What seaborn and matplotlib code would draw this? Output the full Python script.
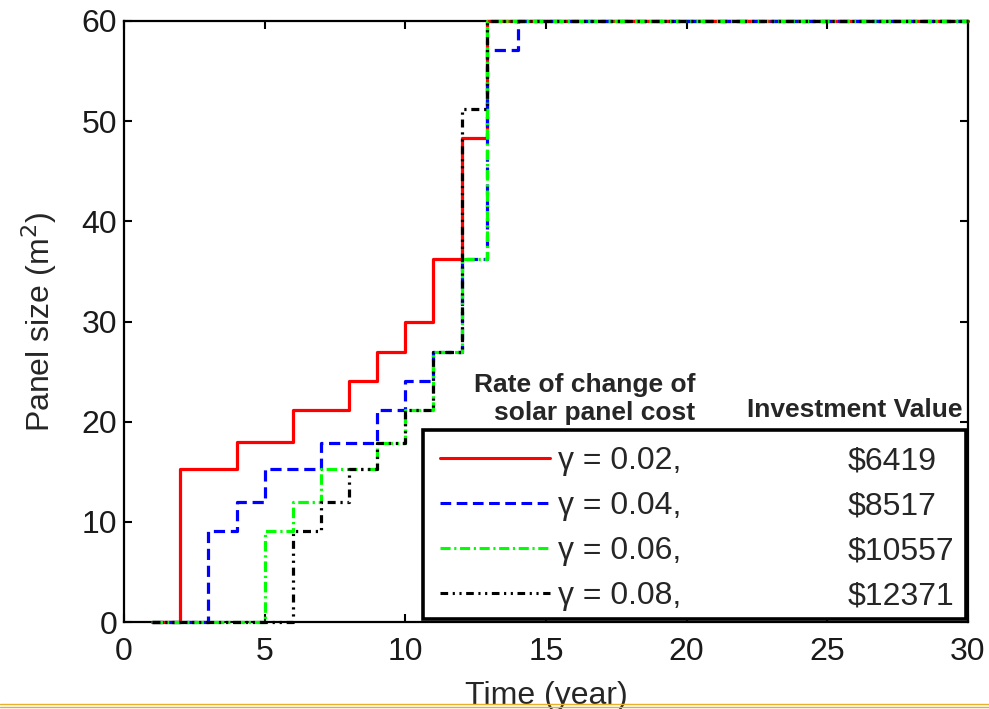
import matplotlib

matplotlib.use("Agg")
import matplotlib.pyplot as plt
import pandas as pd
import seaborn as sns
from matplotlib.lines import Line2D
from matplotlib.patches import Rectangle

# step profiles: time (year) -> panel size (m^2)
red_t = [1, 2, 4, 6, 8, 9, 10, 11, 12, 12.9, 30]
red_v = [0, 15.3, 18, 21.2, 24.1, 27, 30, 36.2, 48.3, 60, 60]
blue_t = [1, 3, 4, 5, 7, 9, 10, 11, 12, 12.9, 14, 30]
blue_v = [0, 9.1, 12, 15.3, 17.9, 21.2, 24.1, 27, 36.2, 57.1, 60, 60]
green_t = [1, 5, 6, 7, 9, 10, 11, 12, 12.9, 30]
green_v = [0, 9.1, 12, 15.3, 17.9, 21.2, 27, 36.2, 60, 60]
black_t = [1, 6, 7, 8, 9, 10, 11, 12, 12.9, 30]
black_v = [0, 9.1, 12, 15.3, 17.9, 21.2, 27, 51.2, 60, 60]

gamma_labels = ["\u03b3 = 0.02,", "\u03b3 = 0.04,", "\u03b3 = 0.06,", "\u03b3 = 0.08,"]
invest_labels = ["$6419", "$8517", "$10557", "$12371"]

series = [
    (red_t, red_v, "#ff0000", "-"),
    (blue_t, blue_v, "#0000ff", (0, (3.5, 1.8))),
    (green_t, green_v, "#00ff00", (0, (3.3, 1.2, 0.7, 1.2))),
    (black_t, black_v, "#000000", (0, (2.5, 1.5, 0.7, 1.5, 0.7, 1.5))),
]

sns.set_theme(style="ticks")
plt.rcParams["font.family"] = ["Liberation Sans", "DejaVu Sans"]

W, H = 989, 709
L, R, T, B = 124, 968, 21, 622
FS = 23
fig = plt.figure(figsize=(W / 100, H / 100), dpi=100)
ax = fig.add_axes([L / W, 1 - B / H, (R - L) / W, (B - T) / H])


def ax_x(px):
    return (px - L) / (R - L)


def ax_y(py):
    return (B - py) / (B - T)


for t, v, color, ls in series:
    df = pd.DataFrame({"t": t, "v": v})
    sns.lineplot(data=df, x="t", y="v", ax=ax, color=color, linestyle=ls, lw=2.3,
                 drawstyle="steps-post", estimator=None, sort=False,
                 clip_on=False, zorder=3)

ax.set_xlim(0, 30)
ax.set_ylim(0, 60)
ax.set_xticks(range(0, 31, 5))
ax.set_yticks(range(0, 61, 10))
for s in ax.spines.values():
    s.set_visible(True)
    s.set_linewidth(1.6)
    s.set_color("black")
ax.tick_params(direction="in", length=6, width=1.5, top=True, right=True,
               labelsize=FS, labelcolor="#1a1a1a", color="black")
ax.tick_params(axis="x", pad=11)
ax.tick_params(axis="y", pad=5)

ax.set_xlabel("Time (year)", fontsize=FS)
ax.xaxis.set_label_coords(0.5, -0.098)
ax.set_ylabel("Panel size (m$^2$)", fontsize=FS)
ax.yaxis.set_label_coords(-0.077, 0.5)

# legend box
ax.add_patch(Rectangle((ax_x(423), ax_y(619)), ax_x(966) - ax_x(423), ax_y(430) - ax_y(619),
                       transform=ax.transAxes, facecolor="white", edgecolor="black",
                       lw=2.6, clip_on=False, zorder=4))
handles = [Line2D([], [], color=c, linestyle=ls, lw=2.2) for _, _, c, ls in series]
leg1 = ax.legend(handles, gamma_labels, loc="upper left",
                 bbox_to_anchor=(ax_x(440), ax_y(446)), frameon=False, fontsize=FS,
                 handlelength=3.45, handletextpad=0.25, labelspacing=0.47,
                 borderpad=0, borderaxespad=0)
leg1.set_zorder(5)
ax.add_artist(leg1)
blank = [Line2D([], [], alpha=0) for _ in invest_labels]
leg2 = ax.legend(blank, invest_labels, loc="upper left",
                 bbox_to_anchor=(ax_x(848), ax_y(446)), frameon=False, fontsize=FS,
                 handlelength=0, handletextpad=0, labelspacing=0.47,
                 borderpad=0, borderaxespad=0)
leg2.set_zorder(5)

ax.text(ax_x(695), ax_y(425), "Rate of change of\nsolar panel cost", transform=ax.transAxes,
        ha="right", va="bottom", multialignment="right", fontsize=19, fontweight="bold")
ax.text(ax_x(747), ax_y(417), "Investment Value", transform=ax.transAxes,
        ha="left", va="baseline", fontsize=19, fontweight="bold")

# slide decoration lines at the bottom edge
for yy in (704, 707):
    fig.add_artist(Line2D([0, 1], [1 - yy / H, 1 - yy / H], transform=fig.transFigure,
                          color="#e6b02a", lw=1.0))

fig.savefig("out.png", dpi=100)
